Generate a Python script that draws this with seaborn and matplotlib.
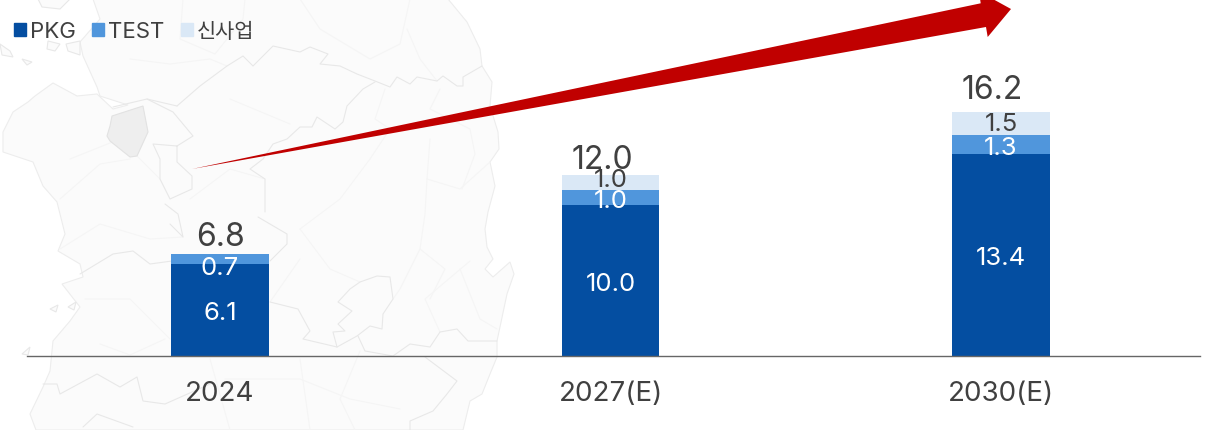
import pandas as pd
import seaborn as sns
import matplotlib.pyplot as plt
from matplotlib.patches import Patch, Polygon

# Chart values
years = ['2024', '2027(E)', '2030(E)']
pkg = [6.1, 10.0, 13.4]
test = [0.7, 1.0, 1.3]
new_biz = [0.0, 1.0, 1.5]
totals = [6.8, 12.0, 16.2]
series_names = ['PKG', 'TEST', '신사업']

# Colours
blue_dark = '#044EA1'
blue_mid = '#5096DC'
blue_light = '#DAE8F6'
text_dark = '#404040'
arrow_red = '#C00000'

# Background map, traced in image pixels (decoration only, not data)
land = [(93, 0), (448, 0), (467, 23), (480, 50), (482, 67), (492, 83), (490, 107), (498, 133),
        (499, 150), (490, 163), (495, 187), (488, 213), (485, 230), (487, 248), (493, 260),
        (485, 270), (493, 278), (510, 263), (514, 275), (507, 295), (497, 342), (497, 358),
        (490, 375), (482, 395), (470, 402), (463, 431), (36, 431), (30, 415), (43, 388),
        (50, 372), (52, 352), (53, 342), (70, 322), (80, 308), (62, 285), (83, 278), (80, 265),
        (58, 252), (65, 235), (60, 215), (57, 203), (43, 187), (33, 163), (3, 153), (3, 133),
        (13, 113), (28, 103), (35, 97), (53, 84), (77, 97), (97, 95), (113, 110), (128, 106),
        (100, 97), (97, 88), (83, 57), (80, 43), (100, 20)]
islands = [[(38, 0), (70, 0), (60, 10), (42, 8)],
           [(0, 45), (10, 52), (13, 58), (2, 56)],
           [(22, 60), (32, 63), (27, 66)],
           [(48, 42), (60, 45), (55, 52), (47, 50)],
           [(66, 45), (80, 42), (80, 56), (68, 52)],
           [(50, 310), (58, 306), (56, 313)],
           [(68, 308), (76, 303), (74, 311)],
           [(22, 355), (30, 348), (28, 356)]]
province = [(112, 117), (143, 107), (148, 133), (137, 157), (130, 158), (110, 142), (107, 137), (110, 127)]
borders_strong = [
    [(147, 100), (173, 113), (193, 137), (177, 147), (153, 145), (160, 160), (160, 180), (170, 200),
     (192, 190), (192, 177), (177, 163), (177, 147)],
    [(177, 107), (200, 87), (227, 67), (243, 57), (253, 67), (273, 47), (300, 53), (310, 48), (328, 55),
     (320, 65), (340, 67), (357, 75), (375, 82), (390, 88), (397, 78), (410, 85), (417, 78), (437, 82),
     (443, 77), (457, 87), (463, 87), (463, 78), (482, 67)],
    [(375, 83), (363, 90), (347, 107), (343, 123), (335, 130), (317, 118), (312, 128), (300, 128), (287, 140),
     (273, 145), (263, 160), (250, 170), (265, 180), (265, 213)],
    [(270, 303), (298, 310), (310, 332), (303, 340), (337, 348), (357, 337), (370, 327), (382, 330), (383, 315),
     (393, 300), (390, 278), (377, 277), (360, 283), (350, 290), (338, 303), (352, 312), (338, 325), (345, 332),
     (333, 333), (337, 348)],
    [(358, 337), (365, 352), (393, 357), (410, 345), (430, 348), (440, 333), (457, 330), (468, 342), (497, 342)],
    [(425, 358), (457, 382), (447, 395), (433, 412), (410, 422), (410, 431)],
    [(80, 275), (113, 255), (133, 252), (150, 265), (172, 262)],
    [(170, 225), (183, 238), (178, 215), (165, 205)],
    [(258, 218), (287, 235), (287, 245), (270, 262)],
    [(43, 385), (57, 385), (60, 395), (97, 375), (120, 388), (137, 378), (143, 402), (165, 405), (210, 385)],
    [(83, 428), (97, 415), (133, 428)],
    [(113, 108), (147, 100), (177, 107)],
]
borders_faint = [
    [(130, 60), (170, 65), (210, 60), (227, 67)], [(183, 0), (180, 40), (215, 55), (243, 20), (245, 0)],
    [(300, 0), (320, 30), (370, 60), (400, 45), (410, 0)], [(407, 30), (420, 60), (437, 82)],
    [(385, 90), (375, 120), (390, 130), (370, 160)], [(440, 90), (430, 110), (470, 130), (475, 155), (462, 190)],
    [(430, 140), (427, 180), (460, 190), (490, 163)], [(427, 180), (425, 215), (420, 250), (445, 270), (430, 300)],
    [(230, 100), (290, 125)], [(70, 160), (120, 140), (160, 180)], [(60, 200), (100, 165), (130, 160)],
    [(190, 200), (230, 170), (265, 180)], [(300, 230), (340, 200), (370, 160)], [(300, 230), (330, 270), (360, 283)],
    [(60, 250), (100, 225), (150, 240), (183, 238)], [(85, 300), (130, 300), (170, 340)],
    [(420, 250), (400, 290), (393, 300)], [(300, 260), (270, 303)], [(460, 270), (480, 320), (497, 330)],
    [(225, 380), (300, 380), (350, 400), (400, 410)], [(300, 360), (310, 431)], [(360, 352), (340, 400), (355, 431)],
    [(210, 360), (230, 431)], [(100, 345), (130, 356), (165, 340)], [(440, 333), (425, 300), (470, 262)],
]

df = pd.DataFrame({'year': years, 'PKG': pkg, 'TEST': test, '신사업': new_biz})

sns.set_theme(style='white')
plt.rcParams['font.family'] = ['Inter', 'Noto Sans CJK KR', 'DejaVu Sans']

fig = plt.figure(figsize=(12.23, 4.31), dpi=100)

# Map and arrow go on a pixel-sized axes underneath
bg = fig.add_axes([0, 0, 1, 1], zorder=0)
bg.set_xlim(0, 1223)
bg.set_ylim(431, 0)
bg.axis('off')
bg.add_patch(Polygon(land, closed=True, facecolor='#FBFBFB', edgecolor='#EDEDED', lw=0.8))
for isl in islands:
    bg.add_patch(Polygon(isl, closed=True, facecolor='#FBFBFB', edgecolor='#E8E8E8', lw=0.8))
for line in borders_faint:
    bg.plot(*zip(*line), color='#F5F5F5', lw=0.8)
for line in borders_strong:
    bg.plot(*zip(*line), color='#E8E8E8', lw=0.8)
bg.add_patch(Polygon(province, closed=True, facecolor='#EEEEEE', edgecolor='#E2E2E2', lw=0.8, zorder=3))

arrow = [(192, 170), (980.7, 4.3), (979, -7.6), (1011, 10), (987.7, 38), (986, 28)]
bg.add_patch(Polygon(arrow, closed=True, facecolor=arrow_red, edgecolor='none', zorder=5))

# Stacked bars
ax = fig.add_axes([0, 0, 1, 1], zorder=1)
ax.patch.set_alpha(0)
bar_w = 0.25
bar_kw = dict(saturation=1, width=bar_w, linewidth=0, ax=ax)
sns.barplot(data=df, x='year', y='PKG', color=blue_dark, **bar_kw)
sns.barplot(data=df, x='year', y='TEST', color=blue_mid, bottom=pkg, **bar_kw)
bottom2 = [a + b for a, b in zip(pkg, test)]
sns.barplot(data=df, x='year', y='신사업', color=blue_light, bottom=bottom2, **bar_kw)

ax.set_xlim(-0.5634, 2.5685)
ax.set_ylim(-4.92, 23.70)
ax.set_xlabel('')
ax.set_ylabel('')
ax.set_yticks([])
ax.tick_params(axis='x', length=0, pad=17.5, labelsize=20, labelcolor=text_dark)

for s in ['top', 'left', 'right']:
    ax.spines[s].set_visible(False)
ax.spines['bottom'].set_position(('data', 0))
ax.spines['bottom'].set_bounds(-0.494, 2.51)
ax.spines['bottom'].set_color('#666666')
ax.spines['bottom'].set_linewidth(1)

# Value labels; small offsets (points) as the source chart has them
nudge_test = [-6, -2, -2]
nudge_new = [0, 2, -0.5]
nudge_total = [12.5, 11.5, 16.5]
nudge_total_x = [0, -6, -6.5]
for i in range(len(years)):
    ax.annotate(f'{pkg[i]:.1f}', (i, pkg[i] / 2), xytext=(0, -2), textcoords='offset points',
                ha='center', va='center', color='white', fontsize=18.5)
    ax.annotate(f'{test[i]:.1f}', (i, pkg[i] + test[i] / 2), xytext=(0, nudge_test[i]),
                textcoords='offset points', ha='center', va='center', color='white', fontsize=18.5)
    if new_biz[i] > 0:
        ax.annotate(f'{new_biz[i]:.1f}', (i, bottom2[i] + new_biz[i] / 2), xytext=(0, nudge_new[i]),
                    textcoords='offset points', ha='center', va='center', color=text_dark, fontsize=18.5)
    ax.annotate(f'{totals[i]:.1f}', (i, totals[i]), xytext=(nudge_total_x[i], nudge_total[i]),
                textcoords='offset points', ha='center', va='center', color=text_dark, fontsize=23)

handles = [Patch(color=c, label=n) for c, n in zip([blue_dark, blue_mid, blue_light], series_names)]
leg = ax.legend(handles=handles, ncol=3, frameon=False, loc='upper left', bbox_to_anchor=(14 / 1223, 1 - 22 / 431),
                borderaxespad=0, borderpad=0, fontsize=16, labelcolor=text_dark, handlelength=0.54, handleheight=0.54,
                handletextpad=0.17, columnspacing=0.75)
leg.get_texts()[2].set_fontsize(15)

fig.savefig('out.png', dpi=100)
